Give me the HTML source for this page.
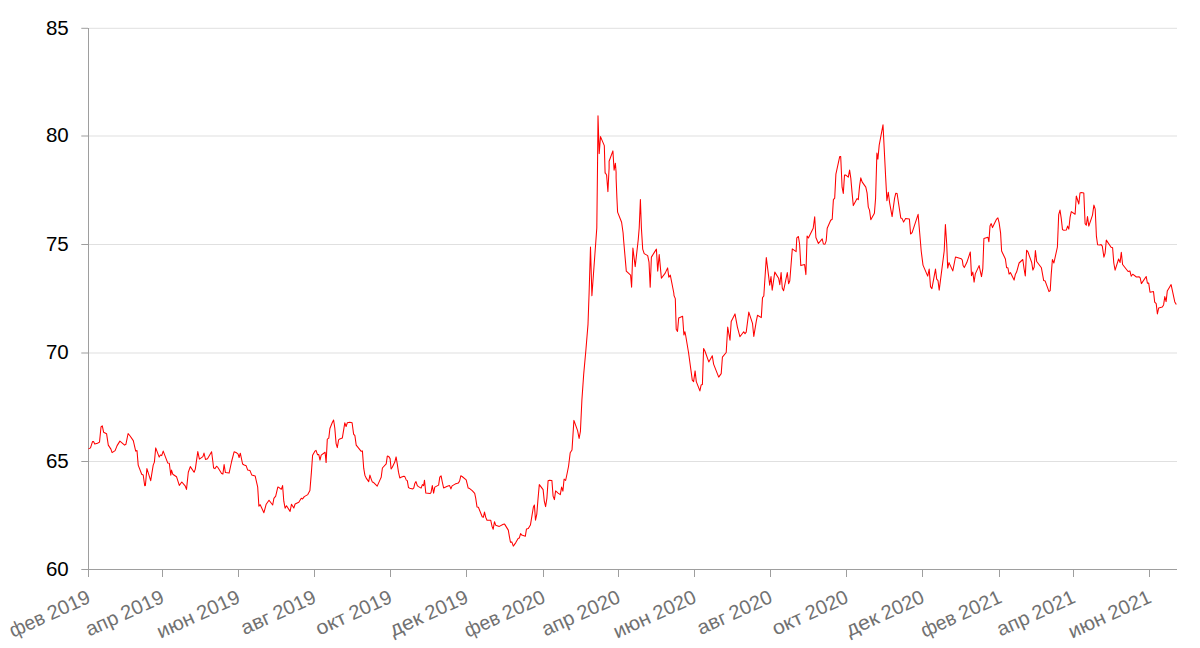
<!DOCTYPE html>
<html><head><meta charset="utf-8"><title>chart</title>
<style>
html,body{margin:0;padding:0;background:#fff;}
body{width:1200px;height:648px;overflow:hidden;position:relative;font-family:"Liberation Sans",sans-serif;}
svg{position:absolute;left:0;top:0;}
.yl{font-size:20.5px;fill:#000;}
.xl{font-size:20px;fill:#717171;}
</style></head><body>
<svg width="1200" height="648" viewBox="0 0 1200 648">
<rect x="89" y="27.8" width="1088" height="1" fill="#e0e0e0" fill-opacity="1.0"/>
<rect x="89" y="135" width="1088" height="2" fill="#e0e0e0" fill-opacity="0.5"/>
<rect x="89" y="244" width="1088" height="1" fill="#e0e0e0" fill-opacity="1.0"/>
<rect x="89" y="352" width="1088" height="2" fill="#e0e0e0" fill-opacity="0.5"/>
<rect x="89" y="461" width="1088" height="1" fill="#e0e0e0" fill-opacity="1.0"/>
<rect x="81.3" y="27.8" width="6.7" height="1" fill="#9e9e9e" fill-opacity="1.0"/>
<text class="yl" x="68.7" y="34.5" text-anchor="end">85</text>
<rect x="81.3" y="135" width="6.7" height="2" fill="#9e9e9e" fill-opacity="0.5"/>
<text class="yl" x="68.7" y="142.1" text-anchor="end">80</text>
<rect x="81.3" y="244" width="6.7" height="1" fill="#9e9e9e" fill-opacity="1.0"/>
<text class="yl" x="68.7" y="250.6" text-anchor="end">75</text>
<rect x="81.3" y="352" width="6.7" height="2" fill="#9e9e9e" fill-opacity="0.5"/>
<text class="yl" x="68.7" y="359.1" text-anchor="end">70</text>
<rect x="81.3" y="461" width="6.7" height="1" fill="#9e9e9e" fill-opacity="1.0"/>
<text class="yl" x="68.7" y="467.6" text-anchor="end">65</text>
<rect x="81.3" y="569" width="6.7" height="1" fill="#9e9e9e" fill-opacity="1.0"/>
<text class="yl" x="68.7" y="575.6" text-anchor="end">60</text>
<rect x="88" y="28" width="1" height="542" fill="#9e9e9e"/>
<rect x="88" y="569" width="1089" height="1" fill="#9e9e9e"/>
<rect x="88" y="569" width="1" height="8" fill="#9e9e9e"/>
<g transform="translate(91.8,601.9) rotate(-24.5)"><text class="xl" x="-86.5" y="0" textLength="36.6" lengthAdjust="spacingAndGlyphs">фев</text><text class="xl" x="-44.9" y="0" textLength="44.9" lengthAdjust="spacingAndGlyphs">2019</text></g>
<rect x="162" y="569" width="1" height="8" fill="#9e9e9e"/>
<g transform="translate(165.4,601.9) rotate(-24.5)"><text class="xl" x="-83.7" y="0" textLength="33.8" lengthAdjust="spacingAndGlyphs">апр</text><text class="xl" x="-44.9" y="0" textLength="44.9" lengthAdjust="spacingAndGlyphs">2019</text></g>
<rect x="238" y="569" width="1" height="8" fill="#9e9e9e"/>
<g transform="translate(241.4,601.9) rotate(-24.5)"><text class="xl" x="-88.8" y="0" textLength="39.0" lengthAdjust="spacingAndGlyphs">июн</text><text class="xl" x="-44.9" y="0" textLength="44.9" lengthAdjust="spacingAndGlyphs">2019</text></g>
<rect x="314" y="569" width="1" height="8" fill="#9e9e9e"/>
<g transform="translate(317.5,601.9) rotate(-24.5)"><text class="xl" x="-80.2" y="0" textLength="30.4" lengthAdjust="spacingAndGlyphs">авг</text><text class="xl" x="-44.9" y="0" textLength="44.9" lengthAdjust="spacingAndGlyphs">2019</text></g>
<rect x="390" y="569" width="1" height="8" fill="#9e9e9e"/>
<g transform="translate(393.5,601.9) rotate(-24.5)"><text class="xl" x="-81.5" y="0" textLength="31.6" lengthAdjust="spacingAndGlyphs">окт</text><text class="xl" x="-44.9" y="0" textLength="44.9" lengthAdjust="spacingAndGlyphs">2019</text></g>
<rect x="466" y="569" width="1" height="8" fill="#9e9e9e"/>
<g transform="translate(469.6,601.9) rotate(-24.5)"><text class="xl" x="-83.8" y="0" textLength="34.0" lengthAdjust="spacingAndGlyphs">дек</text><text class="xl" x="-44.9" y="0" textLength="44.9" lengthAdjust="spacingAndGlyphs">2019</text></g>
<rect x="543" y="569" width="1" height="8" fill="#9e9e9e"/>
<g transform="translate(546.8,601.9) rotate(-24.5)"><text class="xl" x="-86.5" y="0" textLength="36.6" lengthAdjust="spacingAndGlyphs">фев</text><text class="xl" x="-44.9" y="0" textLength="44.9" lengthAdjust="spacingAndGlyphs">2020</text></g>
<rect x="618" y="569" width="1" height="8" fill="#9e9e9e"/>
<g transform="translate(621.6,601.9) rotate(-24.5)"><text class="xl" x="-83.7" y="0" textLength="33.8" lengthAdjust="spacingAndGlyphs">апр</text><text class="xl" x="-44.9" y="0" textLength="44.9" lengthAdjust="spacingAndGlyphs">2020</text></g>
<rect x="694" y="569" width="1" height="8" fill="#9e9e9e"/>
<g transform="translate(697.7,601.9) rotate(-24.5)"><text class="xl" x="-88.8" y="0" textLength="39.0" lengthAdjust="spacingAndGlyphs">июн</text><text class="xl" x="-44.9" y="0" textLength="44.9" lengthAdjust="spacingAndGlyphs">2020</text></g>
<rect x="770" y="569" width="1" height="8" fill="#9e9e9e"/>
<g transform="translate(773.7,601.9) rotate(-24.5)"><text class="xl" x="-80.2" y="0" textLength="30.4" lengthAdjust="spacingAndGlyphs">авг</text><text class="xl" x="-44.9" y="0" textLength="44.9" lengthAdjust="spacingAndGlyphs">2020</text></g>
<rect x="846" y="569" width="1" height="8" fill="#9e9e9e"/>
<g transform="translate(849.8,601.9) rotate(-24.5)"><text class="xl" x="-81.5" y="0" textLength="31.6" lengthAdjust="spacingAndGlyphs">окт</text><text class="xl" x="-44.9" y="0" textLength="44.9" lengthAdjust="spacingAndGlyphs">2020</text></g>
<rect x="922" y="569" width="1" height="8" fill="#9e9e9e"/>
<g transform="translate(925.8,601.9) rotate(-24.5)"><text class="xl" x="-83.8" y="0" textLength="34.0" lengthAdjust="spacingAndGlyphs">дек</text><text class="xl" x="-44.9" y="0" textLength="44.9" lengthAdjust="spacingAndGlyphs">2020</text></g>
<rect x="999" y="569" width="1" height="8" fill="#9e9e9e"/>
<g transform="translate(1003.1,601.9) rotate(-24.5)"><text class="xl" x="-86.5" y="0" textLength="36.6" lengthAdjust="spacingAndGlyphs">фев</text><text class="xl" x="-44.9" y="0" textLength="44.9" lengthAdjust="spacingAndGlyphs">2021</text></g>
<rect x="1073" y="569" width="1" height="8" fill="#9e9e9e"/>
<g transform="translate(1076.7,601.9) rotate(-24.5)"><text class="xl" x="-83.7" y="0" textLength="33.8" lengthAdjust="spacingAndGlyphs">апр</text><text class="xl" x="-44.9" y="0" textLength="44.9" lengthAdjust="spacingAndGlyphs">2021</text></g>
<rect x="1149" y="569" width="1" height="8" fill="#9e9e9e"/>
<g transform="translate(1152.7,601.9) rotate(-24.5)"><text class="xl" x="-88.8" y="0" textLength="39.0" lengthAdjust="spacingAndGlyphs">июн</text><text class="xl" x="-44.9" y="0" textLength="44.9" lengthAdjust="spacingAndGlyphs">2021</text></g>
<path d="M88.5,448.9 L90.5,447.9 L92.5,441.6 L93.5,441.6 L94.8,444.1 L97.5,443.3 L99.5,442.1 L101.0,427.0 L102.3,425.8 L103.6,432.2 L106.6,433.8 L108.3,445.1 L110.9,449.1 L112.1,452.6 L115.1,450.6 L117.1,445.6 L119.9,441.1 L124.6,445.1 L125.9,444.3 L128.1,433.5 L130.1,436.0 L133.3,440.6 L135.7,451.1 L137.0,450.6 L138.2,465.1 L141.7,474.2 L143.2,475.0 L144.7,485.7 L145.4,485.4 L146.9,468.6 L150.7,480.7 L153.2,465.1 L154.4,462.1 L155.7,447.9 L159.2,457.1 L160.4,455.1 L161.7,455.6 L163.2,451.1 L167.8,463.1 L169.3,463.3 L170.8,475.2 L171.5,470.1 L172.8,474.2 L176.5,476.7 L179.3,485.4 L181.8,482.0 L185.3,486.2 L186.5,489.4 L188.3,472.2 L190.3,466.6 L194.1,472.2 L195.3,469.1 L197.8,451.6 L199.4,459.1 L202.9,456.6 L203.9,453.6 L204.0,453.0 L205.5,459.5 L207.5,458.8 L211.6,451.8 L212.9,462.0 L213.6,468.0 L214.9,468.6 L216.6,466.2 L217.9,467.5 L221.6,473.6 L222.9,474.1 L224.1,464.5 L225.4,472.6 L229.1,473.1 L231.6,461.5 L234.1,451.8 L236.6,452.8 L238.1,454.2 L239.1,457.5 L240.3,453.2 L242.6,464.0 L244.2,465.0 L246.2,465.8 L247.7,470.1 L250.0,470.6 L251.7,474.9 L255.2,476.1 L257.7,487.1 L258.9,506.2 L260.2,504.7 L263.9,512.7 L266.2,504.2 L269.0,500.3 L272.7,505.0 L273.9,498.3 L275.7,496.1 L277.8,487.1 L278.8,487.3 L281.3,489.3 L282.6,485.6 L283.8,501.2 L285.1,508.2 L286.5,505.7 L290.1,511.4 L291.5,504.2 L293.8,508.0 L295.1,504.0 L298.8,502.2 L301.3,498.3 L302.6,498.9 L304.3,496.6 L307.8,494.6 L309.9,490.6 L311.4,472.1 L312.6,455.2 L313.9,453.0 L315.0,451.1 L316.0,450.3 L317.5,454.6 L318.8,454.6 L320.0,460.1 L321.2,455.1 L325.1,452.3 L326.1,462.6 L327.3,439.1 L328.8,438.1 L329.9,428.5 L332.3,422.5 L333.6,420.0 L334.8,428.0 L336.1,443.6 L337.3,447.6 L338.6,439.9 L339.8,438.9 L342.3,438.1 L344.8,422.8 L346.1,426.5 L347.3,422.8 L349.8,422.2 L352.1,422.8 L353.6,434.1 L354.9,435.6 L356.2,445.1 L357.4,446.6 L361.2,451.3 L362.4,450.9 L363.7,468.2 L364.9,475.2 L366.2,478.1 L368.7,481.6 L369.9,475.1 L371.2,479.1 L372.4,482.1 L373.7,482.6 L377.2,486.1 L379.9,480.1 L381.2,477.3 L382.4,468.0 L386.2,463.9 L387.3,456.1 L388.8,456.6 L390.1,458.6 L391.1,469.0 L392.3,467.2 L394.8,462.1 L396.1,456.9 L397.3,464.1 L398.5,472.2 L399.8,478.0 L401.0,477.3 L403.8,476.2 L404.8,476.6 L406.3,480.1 L407.3,480.6 L408.5,487.6 L409.8,488.3 L412.8,488.9 L413.8,487.9 L414.8,483.6 L416.0,481.6 L417.3,485.6 L418.5,486.6 L421.1,488.1 L422.4,484.6 L423.6,485.6 L424.5,480.2 L425.8,493.1 L430.0,493.6 L431.0,492.6 L432.3,485.6 L433.6,493.1 L434.8,487.1 L438.6,485.1 L439.8,477.2 L441.1,475.8 L442.3,482.0 L443.6,487.9 L447.3,486.3 L449.6,485.6 L450.9,488.9 L452.1,485.9 L455.1,484.1 L458.3,483.1 L459.6,481.0 L460.8,475.8 L462.1,476.5 L466.2,479.8 L468.2,488.1 L469.7,488.6 L472.2,490.6 L474.7,493.3 L475.7,498.1 L477.0,506.9 L478.4,507.3 L482.2,516.7 L483.4,517.2 L484.5,512.1 L485.7,517.2 L487.0,520.2 L490.7,520.2 L492.0,526.2 L493.2,529.2 L494.5,521.7 L495.7,525.2 L499.3,526.4 L503.3,524.2 L504.6,524.1 L508.3,530.1 L509.5,537.1 L510.5,542.3 L511.8,541.9 L513.3,546.1 L515.8,542.6 L518.1,538.6 L519.3,538.1 L520.6,533.6 L521.8,535.1 L525.3,536.3 L526.5,528.9 L528.3,528.6 L530.4,525.1 L531.9,516.1 L533.4,507.0 L534.4,505.0 L535.5,520.2 L536.8,514.1 L538.0,499.1 L539.3,484.6 L540.5,486.1 L543.1,489.6 L544.3,501.1 L545.6,506.6 L546.9,498.1 L548.1,480.8 L549.6,480.2 L551.9,480.5 L553.1,496.1 L554.4,499.6 L555.6,490.9 L558.1,493.1 L560.3,494.6 L561.6,487.1 L562.9,491.1 L564.1,479.0 L565.6,480.5 L567.1,473.5 L568.6,466.0 L570.2,452.8 L572.0,450.0 L573.9,420.4 L577.6,430.6 L579.1,438.5 L580.4,431.5 L581.9,400.0 L583.7,374.1 L585.9,350.0 L588.0,324.4 L589.1,293.0 L590.5,247.1 L591.9,295.7 L596.8,228.0 L597.5,168.0 L598.0,115.8 L599.2,153.6 L600.5,136.6 L604.3,145.6 L605.1,173.0 L605.1,172.5 L606.6,175.0 L607.9,191.6 L609.1,168.0 L609.1,161.2 L612.9,150.9 L614.1,170.2 L615.4,163.2 L616.1,172.2 L616.1,178.0 L616.9,198.1 L617.6,212.1 L621.6,222.2 L623.1,233.0 L623.6,240.0 L626.3,271.1 L630.6,275.1 L631.6,287.2 L632.9,248.1 L635.2,266.6 L638.2,240.0 L639.2,228.0 L640.4,199.6 L641.4,228.0 L642.7,249.1 L644.2,253.6 L647.7,255.6 L649.0,262.1 L650.2,287.2 L651.4,257.1 L656.4,249.1 L657.7,271.1 L659.2,254.6 L661.4,278.2 L665.2,273.1 L667.6,267.9 L668.8,277.2 L670.3,275.1 L673.8,293.0 L674.0,295.5 L675.3,298.6 L676.2,329.2 L677.5,331.4 L678.7,317.9 L682.6,316.3 L683.9,335.0 L684.9,331.7 L685.6,335.0 L688.6,353.0 L692.3,380.1 L693.6,381.6 L695.1,370.9 L696.3,381.6 L699.9,390.9 L701.1,385.1 L702.4,384.6 L703.6,348.5 L704.9,351.0 L708.8,361.9 L712.3,355.8 L713.6,364.1 L718.7,377.1 L721.2,373.6 L722.4,357.2 L726.2,352.5 L727.7,327.1 L730.0,340.2 L731.2,321.6 L735.0,313.9 L737.4,327.1 L739.9,336.7 L743.7,331.7 L745.0,333.7 L746.2,332.2 L748.8,312.1 L752.5,323.3 L753.8,336.4 L756.3,321.1 L757.5,315.3 L761.3,317.6 L762.5,297.6 L763.8,296.0 L766.3,257.6 L768.5,275.1 L769.7,285.2 L771.0,276.6 L772.2,290.2 L774.8,272.1 L778.6,278.2 L779.8,284.7 L781.1,272.6 L782.3,288.2 L783.6,290.7 L787.3,272.6 L788.6,283.7 L789.8,280.7 L792.3,248.9 L796.1,251.6 L796.8,237.8 L798.4,236.5 L799.6,244.0 L800.8,265.6 L804.6,264.6 L805.9,274.6 L807.1,236.0 L808.4,238.0 L813.2,228.2 L814.7,216.7 L815.9,237.5 L818.4,243.5 L822.2,238.8 L823.4,244.0 L825.0,244.2 L826.2,240.8 L827.2,228.2 L830.7,220.2 L832.2,219.2 L833.4,199.6 L834.7,198.1 L835.9,174.1 L839.7,156.6 L840.7,156.6 L842.1,187.2 L843.3,193.4 L844.5,175.1 L845.8,175.1 L848.3,177.1 L849.6,170.1 L850.8,178.1 L852.1,193.1 L853.3,205.6 L857.1,198.6 L858.3,199.6 L859.6,185.9 L860.8,177.8 L862.1,181.9 L865.8,187.1 L867.1,193.1 L868.3,207.1 L869.5,210.1 L870.8,219.7 L874.4,213.2 L875.6,198.1 L876.9,153.1 L877.9,159.1 L879.2,145.1 L883.0,124.8 L885.7,178.0 L886.9,200.6 L888.3,192.2 L889.6,202.6 L892.1,216.6 L894.6,198.1 L895.8,193.2 L897.1,193.5 L900.8,218.1 L902.1,218.6 L903.6,222.1 L905.6,218.6 L909.4,219.1 L910.6,234.0 L912.1,232.7 L918.1,214.3 L919.7,233.0 L921.2,251.0 L923.0,265.1 L927.7,276.1 L929.2,269.1 L930.5,286.6 L931.9,288.6 L935.5,269.1 L936.7,279.1 L938.0,280.6 L939.2,290.1 L944.2,251.0 L945.4,224.6 L946.7,244.0 L947.7,268.1 L949.0,262.6 L952.8,270.9 L955.5,257.0 L961.3,258.8 L962.3,260.1 L963.1,265.6 L964.3,267.6 L966.8,262.6 L970.3,252.0 L971.5,275.6 L972.8,272.1 L974.1,282.1 L975.3,273.9 L979.1,265.6 L981.5,276.6 L982.8,268.6 L983.9,238.5 L987.9,237.2 L988.9,241.8 L990.0,226.1 L991.2,223.6 L992.5,227.6 L996.6,219.1 L997.9,217.9 L999.1,222.6 L1000.6,233.1 L1001.6,251.0 L1005.4,259.0 L1006.6,267.8 L1007.9,267.8 L1009.1,274.1 L1010.4,272.6 L1014.1,280.1 L1015.3,274.6 L1016.6,272.1 L1019.1,263.0 L1022.8,259.5 L1024.1,269.0 L1025.3,275.9 L1026.6,250.2 L1027.9,251.8 L1031.7,262.5 L1032.9,270.1 L1034.2,267.0 L1035.4,250.5 L1036.7,261.5 L1041.4,267.8 L1043.7,280.6 L1045.2,281.1 L1049.0,291.6 L1050.2,290.6 L1051.2,274.6 L1052.4,259.5 L1053.9,263.0 L1057.4,247.0 L1058.7,214.6 L1060.0,210.1 L1061.2,218.1 L1062.5,229.6 L1063.8,230.3 L1066.3,230.1 L1067.6,226.1 L1068.8,229.1 L1070.1,217.1 L1071.3,211.6 L1075.1,214.3 L1076.3,196.0 L1078.8,204.0 L1080.0,193.0 L1081.3,192.5 L1083.8,193.0 L1085.1,223.6 L1086.3,225.3 L1087.5,216.6 L1088.8,226.1 L1092.5,215.1 L1093.9,205.1 L1095.2,209.1 L1096.4,236.1 L1097.6,244.7 L1100.0,245.0 L1101.1,244.6 L1102.3,246.1 L1103.9,257.2 L1105.1,253.2 L1106.3,240.1 L1111.1,247.2 L1112.6,247.7 L1113.8,263.0 L1115.1,270.2 L1118.6,259.0 L1120.1,262.5 L1121.3,252.2 L1122.6,264.5 L1128.1,271.5 L1129.9,271.0 L1131.2,276.2 L1132.7,274.2 L1136.4,277.0 L1139.2,276.8 L1140.2,277.8 L1141.4,283.6 L1146.2,276.5 L1147.4,283.1 L1148.7,283.1 L1150.0,292.3 L1153.5,291.6 L1154.7,302.1 L1156.2,303.6 L1157.4,314.0 L1158.7,307.9 L1162.3,307.1 L1163.6,304.9 L1164.8,296.6 L1166.1,301.6 L1167.3,290.9 L1171.1,284.6 L1174.8,301.9 L1176.3,304.6" fill="none" stroke="#ff0000" stroke-width="1.05" stroke-linejoin="round"/>
</svg></body></html>
